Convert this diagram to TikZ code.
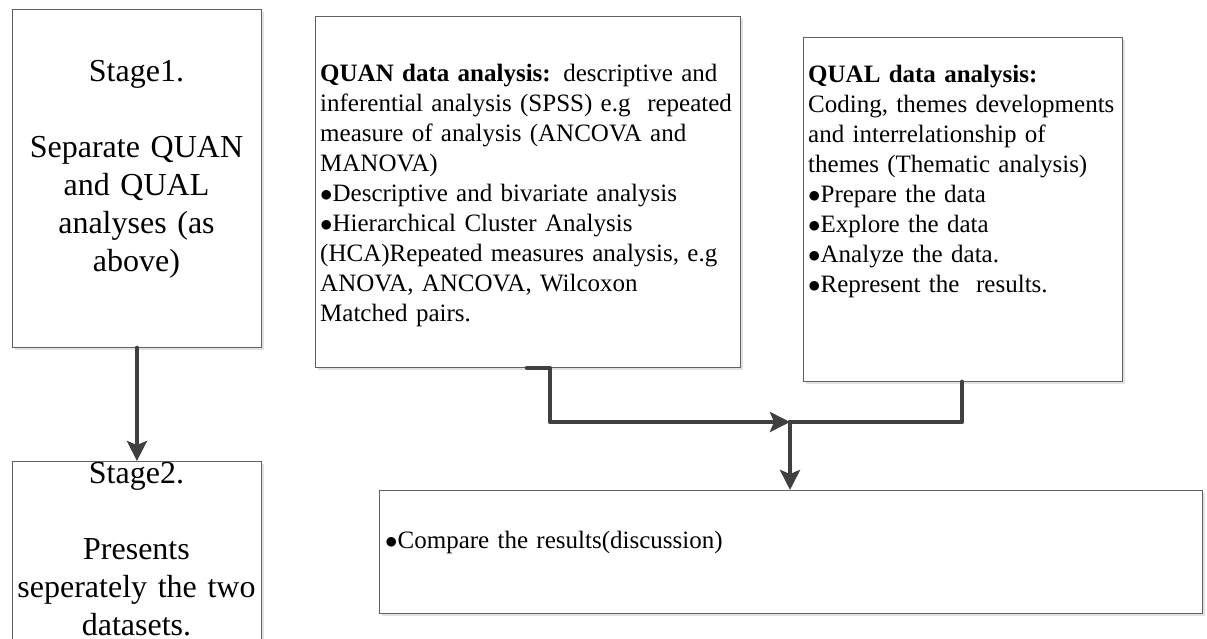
\documentclass[tikz,border=0pt]{standalone}
\usepackage{fontspec}
\setmainfont{Liberation Serif}
\usetikzlibrary{arrows.meta,shadows}

\definecolor{boxgray}{RGB}{96,96,96}
\definecolor{linkgray}{RGB}{64,64,64}
\definecolor{shadowgray}{RGB}{226,226,226}
\newcommand{\itemdot}{$\bullet$}

\begin{document}
\begin{tikzpicture}[x=1pt, y=-1pt,
        box/.style = {draw=boxgray, line width=0.9pt, fill=white, anchor=north west, inner sep=0pt,
            drop shadow={shadow xshift=3pt, shadow yshift=-3pt, fill=shadowgray, opacity=1}},
        stagetext/.style = {anchor=base, align=center, text width=240pt, inner sep=0pt, font=\fontsize{32}{38}\selectfont},
        bodytext/.style = {anchor=base west, align=left, text width=440pt, inner sep=0pt, font=\fontsize{25}{30}\selectfont},
        link/.style = {draw=linkgray, line width=4.5pt, line cap=round, line join=round},
        linkarrow/.style = {-{Stealth[length=20pt, width=20pt, inset=4pt]}}]
        \useasboundingbox (0,0) rectangle (1207,639);
        \clip (0,0) rectangle (1207,639);
        \node[box, minimum width=249pt, minimum height=338pt] (stageone) at (12,9) {};
        \node[box, minimum width=249pt, minimum height=230pt] (stagetwo) at (12,461) {};
        \node[box, minimum width=425pt, minimum height=351pt] (quan) at (315,16) {};
        \node[box, minimum width=319pt, minimum height=344pt] (qual) at (803,37) {};
        \node[box, minimum width=823pt, minimum height=123pt] (compare) at (379,490) {};
        \node[stagetext] (stageonetext) at (136.5,82) {Stage1.\\[38pt]Separate QUAN\\and QUAL\\analyses (as\\above)};
        \node[stagetext] (stagetwotext) at (136.5,483) {Stage2.\\[38pt]Presents\\seperately the two\\datasets.};
        \node[bodytext] (quantext) at (320,82) {\textbf{QUAN data analysis:} descriptive and\\inferential analysis (SPSS) e.g~ repeated\\measure of analysis (ANCOVA and\\MANOVA)\\\itemdot Descriptive and bivariate analysis\\\itemdot Hierarchical Cluster Analysis\\(HCA)Repeated measures analysis, e.g\\ANOVA, ANCOVA, Wilcoxon\\Matched pairs.};
        \node[bodytext] (qualtext) at (808,83) {\textbf{QUAL data analysis:}\\Coding, themes developments\\and interrelationship of\\themes (Thematic analysis)\\\itemdot Prepare the data\\\itemdot Explore the data\\\itemdot Analyze the data.\\\itemdot Represent the~ results.};
        \node[bodytext] (comparetext) at (385,548) {\itemdot Compare the results(discussion)};
        \coordinate (join) at (790,422);
        \draw[link, linkarrow] (stageone.south) -- (stagetwo.north);
        \draw[link, linkarrow] ([xshift=212pt]quan.south west) -- ([xshift=235pt]quan.south west) |- (join);
        \draw[link] ([xshift=159pt]qual.south west) |- (join);
        \draw[link, linkarrow] (join) -- (join |- compare.north);
\end{tikzpicture}
\end{document}
